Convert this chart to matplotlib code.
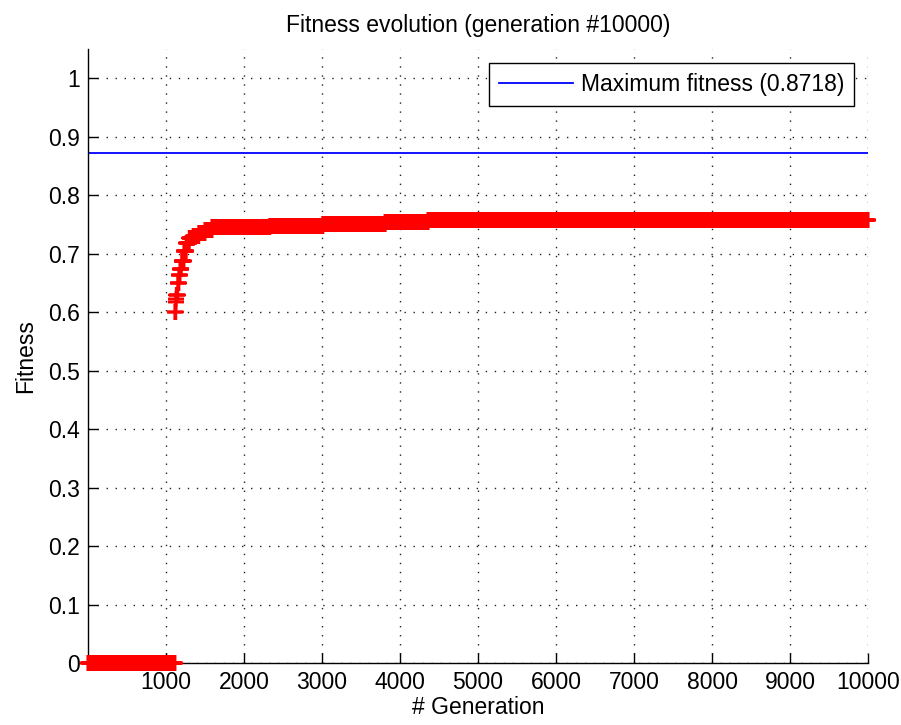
import matplotlib
matplotlib.use("Agg")
import matplotlib.pyplot as plt
import numpy as np

# best fitness per generation, stored as steps (generation where a new value starts)
step_start = [1, 1115, 1125, 1130, 1135, 1150, 1165, 1180, 1200, 1230, 1260,
              1300, 1350, 1420, 1500, 1590, 2330, 3010, 3810, 4360]
step_fitness = [0.0, 0.601, 0.617, 0.623, 0.629, 0.650, 0.664, 0.673, 0.688,
                0.704, 0.718, 0.726, 0.730, 0.735, 0.740, 0.745, 0.748, 0.751,
                0.754, 0.757]
last_gen = 10000
max_fitness = 0.8718

x_ticks = [1000, 2000, 3000, 4000, 5000, 6000, 7000, 8000, 9000, 10000]
y_ticks = [0, 0.1, 0.2, 0.3, 0.4, 0.5, 0.6, 0.7, 0.8, 0.9, 1.0]
y_labels = ["0", "0.1", "0.2", "0.3", "0.4", "0.5", "0.6", "0.7", "0.8", "0.9", "1"]

counts = np.diff(step_start + [last_gen + 1])
gens = np.arange(1, last_gen + 1)
fitness = np.repeat(step_fitness, counts)

plt.rcParams["font.family"] = ["Liberation Sans", "DejaVu Sans"]
fs = 16.5

fig = plt.figure(figsize=(9.01, 7.25), dpi=100)
ax = fig.add_axes([0.0977, 0.0855, 0.9634 - 0.0977, 0.9324 - 0.0855])

ax.axhline(max_fitness, color="#0000ff", lw=1.3, zorder=2,
           label="Maximum fitness (%.4f)" % max_fitness)
ax.plot(gens, fitness, "+", color="#ff0000", ms=11, mew=1.6,
        clip_on=False, zorder=3)

ax.set_xlim(1, last_gen)
ax.set_ylim(0, 1.05)
ax.set_xticks(x_ticks)
ax.set_yticks(y_ticks)
ax.set_yticklabels(y_labels)

ax.grid(True, color="#222222", lw=1.0, linestyle=(0, (1, 5.5)))
ax.set_axisbelow(True)
for s in ["top", "right"]:
    ax.spines[s].set_visible(False)
for s in ["left", "bottom"]:
    ax.spines[s].set_linewidth(1.0)
    ax.spines[s].set_zorder(2.5)
ax.tick_params(direction="in", length=7, width=1.0, labelsize=fs, pad=6)

ax.set_title("Fitness evolution (generation #10000)", fontsize=fs, pad=12)
ax.set_xlabel("# Generation", fontsize=fs, labelpad=1)
ax.set_ylabel("Fitness", fontsize=fs, labelpad=8)

leg = ax.legend(loc="upper right", fontsize=fs, fancybox=False, framealpha=1,
                edgecolor="black", handlelength=3.2, handletextpad=0.35,
                borderaxespad=0.6, borderpad=0.45)
leg.get_frame().set_linewidth(1.0)

fig.savefig("out.png", dpi=100)
